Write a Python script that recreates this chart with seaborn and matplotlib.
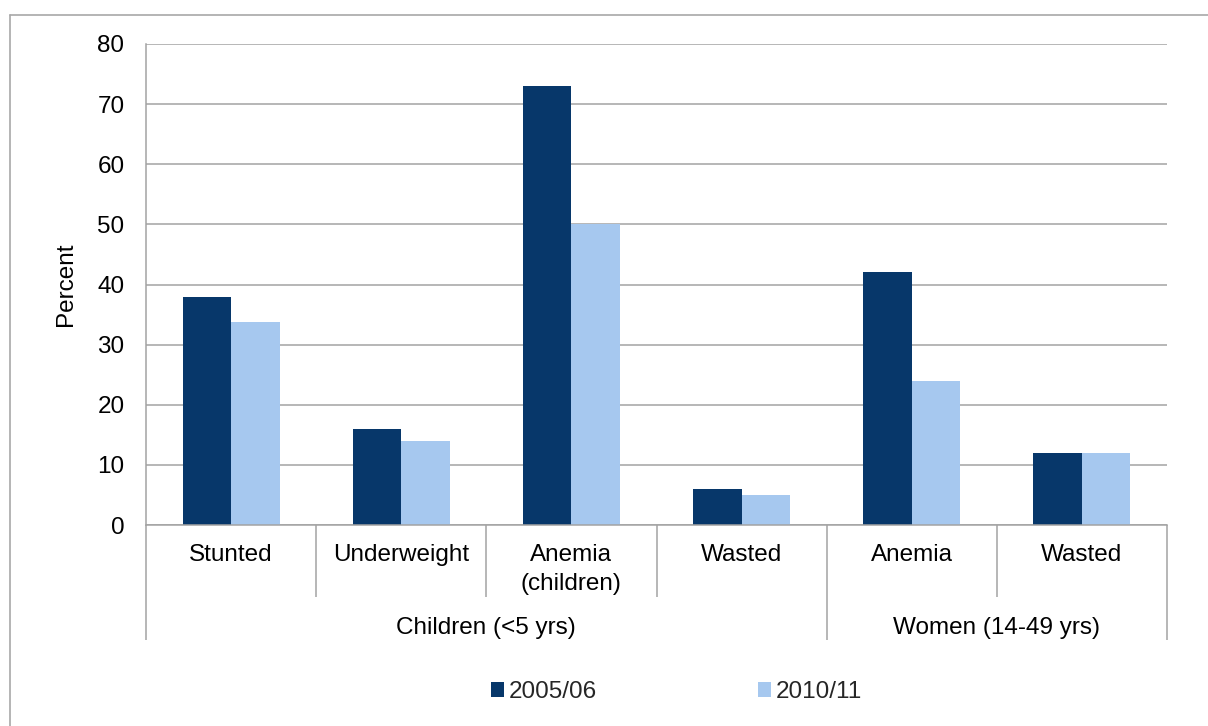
import matplotlib
matplotlib.use("Agg")
import matplotlib.pyplot as plt
import matplotlib.transforms as mtransforms
import seaborn as sns
import pandas as pd

# Nutrition indicators, two survey rounds
groups = ["Children (<5 yrs)"] * 4 + ["Women (14-49 yrs)"] * 2
indicators = ["Stunted", "Underweight", "Anemia\n(children)", "Wasted", "Anemia", "Wasted"]
rounds = ["2005/06", "2010/11"]
values_2005 = [38, 16, 73, 6, 42, 12]
values_2010 = [33.7, 14, 50, 5, 24, 12]
y_ticks = [0, 10, 20, 30, 40, 50, 60, 70, 80]

colors = ["#07376A", "#A6C8EF"]
grid_grey = "#A3A3A3"
FS = 17.5

sns.set_theme(style="white")
plt.rcParams["font.family"] = ["Liberation Sans", "DejaVu Sans"]

keys = [f"{g}|{i}" for g, i in zip(groups, indicators)]
df = pd.DataFrame({
    "key": keys * 2,
    "round": [rounds[0]] * len(keys) + [rounds[1]] * len(keys),
    "value": values_2005 + values_2010,
})

fig = plt.figure(figsize=(12.08, 7.26), dpi=100)
ax = fig.add_axes([146 / 1208, 1 - 525 / 726, (1167 - 146) / 1208, (525 - 44) / 726])

sns.barplot(data=df, x="key", y="value", hue="round", order=keys, hue_order=rounds,
            palette=colors, width=0.57, saturation=1, edgecolor="none", ax=ax)

ax.set_xlim(-0.5, len(keys) - 0.5)
ax.set_ylim(0, 80)
ax.set_yticks(y_ticks)
ax.set_axisbelow(True)
ax.yaxis.grid(True, color=grid_grey, linewidth=1.1)
ax.tick_params(axis="y", length=4.5, width=1.1, color=grid_grey, pad=11, labelsize=FS, labelcolor="black")
ax.set_ylabel("Percent", fontsize=FS, color="black", labelpad=15)
ax.set_xlabel("")

for side in ["top", "right"]:
    ax.spines[side].set_visible(False)
for side in ["left", "bottom"]:
    ax.spines[side].set_color(grid_grey)
    ax.spines[side].set_linewidth(1.1)

# Two-level category axis
ax.set_xticks(range(len(keys)))
ax.set_xticklabels(indicators, fontsize=FS, color="black", linespacing=1.36)
ax.tick_params(axis="x", length=0, pad=14)

trans = mtransforms.blended_transform_factory(ax.transData, ax.transAxes)
short_drop = -(597 - 525) / 481
long_drop = -(640 - 525) / 481
boundaries = [i - 0.5 for i in range(len(keys) + 1)]
for i, b in enumerate(boundaries):
    first_or_last = i == 0 or i == len(keys)
    changes_group = 0 < i < len(keys) and groups[i] != groups[i - 1]
    bottom = long_drop if (first_or_last or changes_group) else short_drop
    ax.plot([b, b], [0, bottom], transform=trans, color=grid_grey, linewidth=1.1,
            clip_on=False, solid_capstyle="butt")

unique_groups = list(dict.fromkeys(groups))
for g in unique_groups:
    idx = [i for i, gg in enumerate(groups) if gg == g]
    center = (idx[0] + idx[-1]) / 2
    ax.text(center, -(628 - 525) / 481, g, transform=trans, ha="center", va="center",
            fontsize=FS, color="black")

# Legend below the chart
handles, labels = ax.get_legend_handles_labels()
ax.get_legend().remove()
fig.legend(handles, labels, loc="center", bbox_to_anchor=(0.56, 1 - 692 / 726), ncol=2,
           frameon=False, fontsize=FS, handlelength=0.55, handleheight=0.55,
           handletextpad=0.2, columnspacing=6.6)

# Outer chart border
fig.add_artist(plt.Line2D([10 / 1208, 10 / 1208], [0, 1 - 15 / 726], transform=fig.transFigure,
                          color="#A8A8A8", linewidth=1.2))
fig.add_artist(plt.Line2D([10 / 1208, 1], [1 - 15 / 726, 1 - 15 / 726], transform=fig.transFigure,
                          color="#A8A8A8", linewidth=1.2))

fig.savefig("out.png", dpi=100, facecolor="white")
